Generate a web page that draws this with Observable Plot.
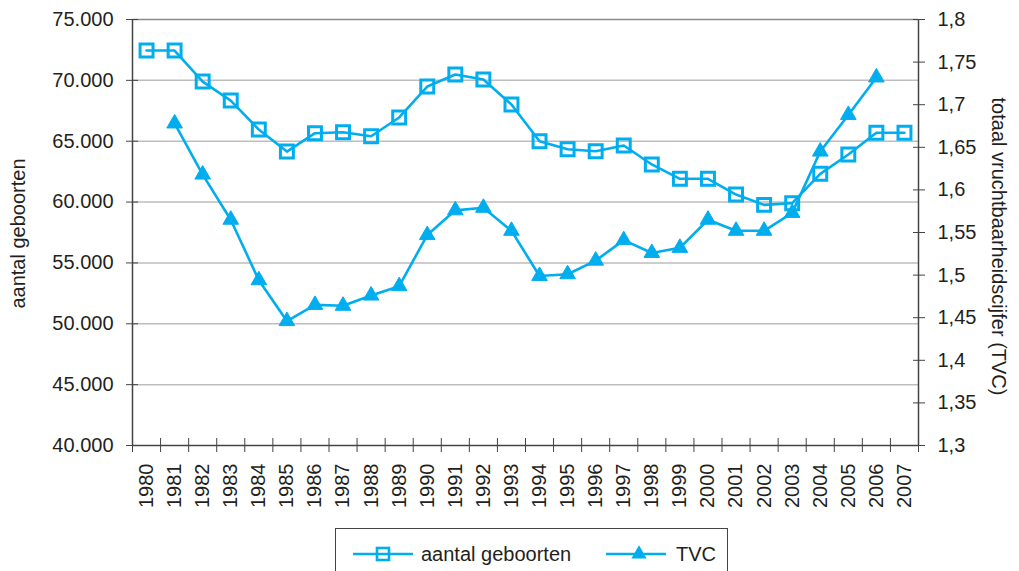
<!DOCTYPE html>
<html><head><meta charset="utf-8">
<script src="https://cdn.jsdelivr.net/npm/d3@7"></script>
<script src="https://cdn.jsdelivr.net/npm/@observablehq/plot@0.6"></script>
<style>
body{margin:0;background:#fff;font-family:"Liberation Sans",Arial,sans-serif;color:#231f20;}
#wrap{position:relative;width:1019px;height:571px;overflow:hidden;}
#legend{position:absolute;left:335px;top:528px;width:393px;height:60px;border:1px solid #444;box-sizing:border-box;background:#fff;}
#legend svg{position:absolute;left:0;top:0;}
</style></head>
<body><div id="wrap"><div id="chart"></div><div id="legend"></div></div>
<script>
const years = [1980,1981,1982,1983,1984,1985,1986,1987,1988,1989,1990,1991,1992,1993,1994,1995,1996,1997,1998,1999,2000,2001,2002,2003,2004,2005,2006,2007];
const births = [72450,72450,69900,68340,65960,64150,65660,65740,65410,66950,69490,70480,70070,68020,64990,64340,64180,64650,63090,61910,61910,60620,59770,59910,62320,63910,65690,65690];
const tvc = [null,1.678,1.618,1.565,1.494,1.446,1.465,1.464,1.476,1.487,1.547,1.576,1.579,1.552,1.499,1.501,1.517,1.541,1.526,1.532,1.565,1.552,1.552,1.573,1.645,1.688,1.732,null];
const leftTicks = [40000,45000,50000,55000,60000,65000,70000,75000];
const leftLabels = ["40.000","45.000","50.000","55.000","60.000","65.000","70.000","75.000"];
const rightTicks = [1.3,1.35,1.4,1.45,1.5,1.55,1.6,1.65,1.7,1.75,1.8];
const rightLabels = ["1,3","1,35","1,4","1,45","1,5","1,55","1,6","1,65","1,7","1,75","1,8"];
const seriesNames = ["aantal geboorten","TVC"];
const leftTitle = "aantal geboorten";
const rightTitle = "totaal vruchtbaarheidscijfer (TVC)";

const color = "#00aeef";
const toLeft = v => 40000 + (v - 1.3) / 0.5 * 35000;
const birthData = years.map((y,i)=>({year:y, v:births[i]}));
const tvcData = years.map((y,i)=>({year:y, v:tvc[i]})).filter(d=>d.v!=null);
const boundaries = years.map(y=>y-0.5).concat([years[years.length-1]+0.5]);
const rightPos = rightTicks.map(toLeft);

const chart = Plot.plot({
  width:1019, height:520,
  marginLeft:132, marginRight:101, marginTop:19, marginBottom:75,
  style:{fontFamily:"Liberation Sans, Arial, sans-serif", fontSize:"20px", color:"#231f20", background:"#fff"},
  x:{domain:[1979.5,2007.5]},
  y:{domain:[40000,75000]},
  marks:[
    Plot.ruleY(leftTicks.slice(1,-1), {stroke:"#bdbdbd", strokeWidth:1.5}),
    Plot.ruleY([75000], {stroke:"#8a8a8a", strokeWidth:1.5}),
    Plot.ruleY([40000], {stroke:"#444", strokeWidth:1.5}),
    Plot.ruleX([1979.5], {stroke:"#444", strokeWidth:1.5}),
    Plot.ruleX([2007.5], {stroke:"#444", strokeWidth:1.5}),
    // left axis
    Plot.axisY(leftTicks, {anchor:"left", tickSize:12, dx:6, tickFormat:()=>"", stroke:"#444", label:null}),
    Plot.axisY(leftTicks, {anchor:"left", tickSize:0, tickPadding:19, tickFormat:(d)=>leftLabels[leftTicks.indexOf(d)], fontSize:20, fill:"#231f20", label:null}),
    // right axis
    Plot.axisY(rightPos, {anchor:"right", tickSize:12, dx:-6, tickFormat:()=>"", stroke:"#444", label:null}),
    Plot.axisY(rightPos, {anchor:"right", tickSize:0, tickPadding:19, tickFormat:(d)=>rightLabels[rightPos.indexOf(d)], fontSize:20, fill:"#231f20", label:null}),
    // x axis
    Plot.axisX(boundaries, {tickSize:14, dy:-7, tickFormat:()=>"", stroke:"#444", label:null}),
    Plot.axisX(years, {tickSize:0, tickPadding:18, tickRotate:-90, tickFormat:d=>String(d), fontSize:20, fill:"#231f20", label:null}),
    // titles
    Plot.text([leftTitle], {frameAnchor:"left", textAnchor:"middle", rotate:-90, dx:-114, dy:1, fontSize:20, fill:"#231f20"}),
    Plot.text([rightTitle], {frameAnchor:"right", textAnchor:"middle", rotate:90, dx:80, dy:14, fontSize:20, fill:"#231f20"}),
    // series
    Plot.line(birthData, {x:"year", y:"v", stroke:color, strokeWidth:2.6}),
    Plot.dot(birthData, {x:"year", y:"v", symbol:"square", r:7.3, stroke:color, strokeWidth:3, fill:"none"}),
    Plot.line(tvcData, {x:"year", y:d=>toLeft(d.v), stroke:color, strokeWidth:2.6}),
    Plot.dot(tvcData, {x:"year", y:d=>toLeft(d.v), symbol:"triangle", r:5.8, fill:color, stroke:color, strokeWidth:1})
  ]
});
document.getElementById("chart").appendChild(chart);

// legend
const lg = d3.select("#legend").append("svg").attr("width",393).attr("height",60);
const items = [
  {name:seriesNames[0], x0:17, type:"square", tx:85},
  {name:seriesNames[1], x0:270, type:"triangle", tx:340}
];
items.forEach(it=>{
  lg.append("line").attr("x1",it.x0).attr("x2",it.x0+60).attr("y1",25).attr("y2",25).attr("stroke",color).attr("stroke-width",2.6);
  if(it.type==="square"){
    lg.append("rect").attr("x",it.x0+24).attr("y",19).attr("width",12).attr("height",12).attr("fill","none").attr("stroke",color).attr("stroke-width",2.6);
  } else {
    lg.append("path").attr("d",d3.symbol(d3.symbolTriangle, 100)()).attr("transform",`translate(${it.x0+33},25)`).attr("fill",color);
  }
  lg.append("text").attr("x",it.tx).attr("y",32).attr("font-size",20).attr("fill","#231f20").attr("font-family","Liberation Sans, Arial, sans-serif").text(it.name);
});
</script></body></html>
